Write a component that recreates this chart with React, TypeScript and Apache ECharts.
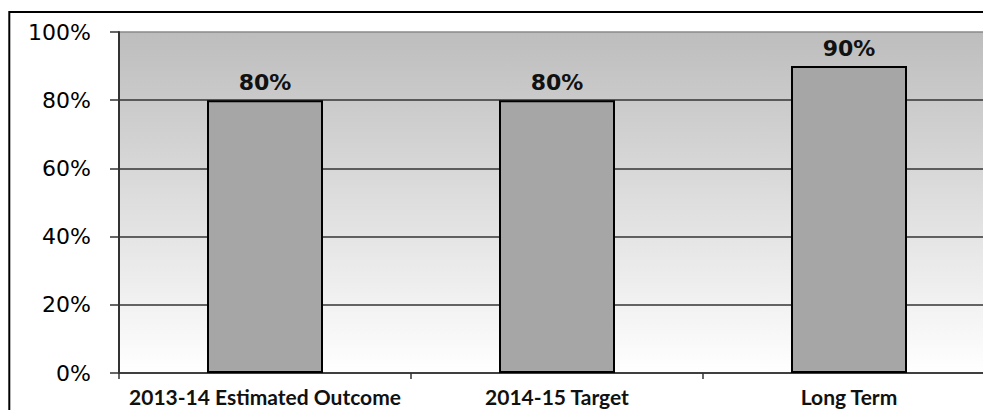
import React, { useEffect, useRef } from "react";
import * as echarts from "echarts";

const categories = ["2013-14 Estimated Outcome", "2014-15 Target", "Long Term"];
const values = [0.8, 0.8, 0.9];
const yTicks = [0, 0.2, 0.4, 0.6, 0.8, 1.0];

export default function App() {
  const ref = useRef<HTMLDivElement>(null);
  useEffect(() => {
    if (!ref.current) return;
    const chart = echarts.init(ref.current, null, { renderer: "svg" });
    chart.setOption({
      animation: false,
      backgroundColor: "#ffffff",
      graphic: [
        {
          type: "rect",
          shape: { x: 9.3, y: 12, width: 1100, height: 600 },
          style: { fill: "none", stroke: "#000", lineWidth: 2 },
          silent: true,
          z: 100,
        },
      ],
      grid: {
        left: 119,
        top: 32,
        width: 876,
        height: 341,
        show: true,
        borderWidth: 0,
        backgroundColor: new echarts.graphic.LinearGradient(0, 0, 0, 1, [
          { offset: 0, color: "#bdbdbd" },
          { offset: 1, color: "#ffffff" },
        ]),
      },
      xAxis: {
        type: "category",
        data: categories,
        boundaryGap: true,
        axisLine: { show: true, lineStyle: { color: "#333", width: 1.5 } },
        axisTick: { show: true, interval: 0, length: 6, lineStyle: { color: "#333", width: 1.5 } },
        axisLabel: {
          interval: 0,
          margin: 12,
          color: "#111",
          fontFamily: "Lato",
          fontWeight: "bold",
          fontSize: 21,
          lineHeight: 22,
        },
        splitLine: { show: false },
      },
      yAxis: {
        type: "value",
        min: 0,
        max: 1,
        interval: 0.2,
        axisLine: { show: true, lineStyle: { color: "#333", width: 2 } },
        axisTick: { show: true, length: 9, lineStyle: { color: "#333", width: 1.5 } },
        axisLabel: {
          margin: 28,
          color: "#000",
          fontFamily: "DejaVu Sans",
          fontSize: 22,
          formatter: (v: number) => {
            const t = yTicks.find((x) => Math.abs(x - v) < 1e-9);
            return Math.round((t ?? v) * 100) + "%";
          },
        },
        splitLine: {
          show: true,
          lineStyle: {
            color: ["#333", "#333", "#333", "#333", "#333", "#8a8a8a"],
            width: 1.5,
          },
        },
      },
      series: [
        {
          type: "bar",
          data: values,
          barWidth: 116,
          itemStyle: { color: "#a6a6a6", borderColor: "#000", borderWidth: 2 },
          label: {
            show: true,
            position: "top",
            distance: 7,
            color: "#111",
            fontFamily: "DejaVu Sans",
            fontWeight: "bold",
            fontSize: 22,
            formatter: (p: any) => Math.round(p.value * 100) + "%",
          },
        },
      ],
    });
    return () => chart.dispose();
  }, []);
  return (
    <div style={{ position: "fixed", left: 0, top: 0, width: 983, height: 410, overflow: "hidden" }}>
      <div ref={ref} style={{ width: 1020, height: 410 }} />
    </div>
  );
}
